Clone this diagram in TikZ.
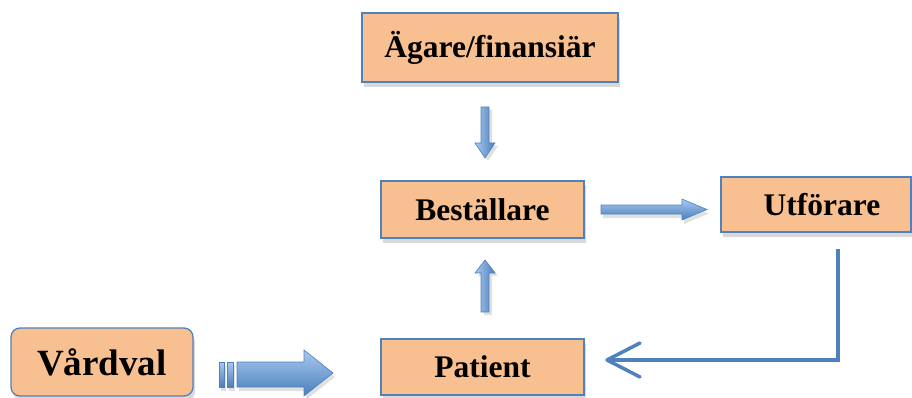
\documentclass[tikz,border=0pt]{standalone}
\usepackage{fontspec}
\setmainfont{Liberation Serif}
\usetikzlibrary{shadows}
\definecolor{boxfill}{HTML}{F8C090}
\definecolor{boxline}{HTML}{4F81BD}
\definecolor{arlight}{HTML}{A9C9F0}
\definecolor{ardark}{HTML}{4A7EBB}
\tikzset{
  box/.style={draw=boxline, line width=1.3pt, fill=boxfill, inner sep=0pt,
    font=\bfseries\fontsize{31.5}{36}\selectfont,
    drop shadow={shadow xshift=2pt, shadow yshift=-5pt, opacity=0.25, fill=black!60}},
  harrow/.style={draw=boxline, line width=0.6pt, top color=arlight, bottom color=ardark,
    drop shadow={shadow xshift=2pt, shadow yshift=-4pt, opacity=0.2, fill=black!60}},
  varrow/.style={draw=boxline, line width=0.6pt, left color=arlight, right color=ardark,
    drop shadow={shadow xshift=3pt, shadow yshift=-3pt, opacity=0.2, fill=black!60}},
  conn/.style={draw=boxline, line width=3.5pt, line join=miter},
}
\begin{document}
\begin{tikzpicture}[x=1pt,y=-1pt]
\useasboundingbox (0,0) rectangle (912,398);
% boxes
\node[box, minimum width=256pt, minimum height=69pt] (ag) at (490,47.5) {Ägare/finansiär};
\node[box, minimum width=203pt, minimum height=57pt] (be) at (482.5,209.5) {Beställare};
\node[box, minimum width=190pt, minimum height=55pt] (ut) at (816,204.5) {\hspace*{12pt}Utförare};
\node[box, minimum width=203pt, minimum height=56pt] (pa) at (482.5,367) {Patient};
\node[box, rounded corners=9pt, minimum width=182pt, minimum height=68pt,
  font=\bfseries\fontsize{37}{42}\selectfont] (va) at (102,362) {Vårdval};
% block arrows
\path[varrow] (481,107) -- (489,107) -- (489,143) -- (495,143) -- (485,158)
  -- (475,143) -- (481,143) -- cycle;
\path[varrow] (481,312) -- (489,312) -- (489,273) -- (495,273) -- (485,260)
  -- (475,273) -- (481,273) -- cycle;
\path[harrow] (601,205) -- (682,205) -- (682,199) -- (707,209.5) -- (682,220)
  -- (682,214) -- (601,214) -- cycle;
% Vardval arrow
\path[harrow] (219,362) rectangle (224,387);
\path[harrow] (227,362) rectangle (233,387);
\path[harrow] (237,362) -- (304,362) -- (304,350) -- (333,373) -- (304,396)
  -- (304,387) -- (237,387) -- cycle;
% elbow connector
\coordinate (c1) at (838,249);
\coordinate (c2) at (607,360);
\draw[conn] (c1) |- (c2);
\draw[conn, line join=round, line cap=round] ([xshift=33pt,yshift=17pt]c2) -- (c2) -- ([xshift=33pt,yshift=-17pt]c2);
\end{tikzpicture}
\end{document}
